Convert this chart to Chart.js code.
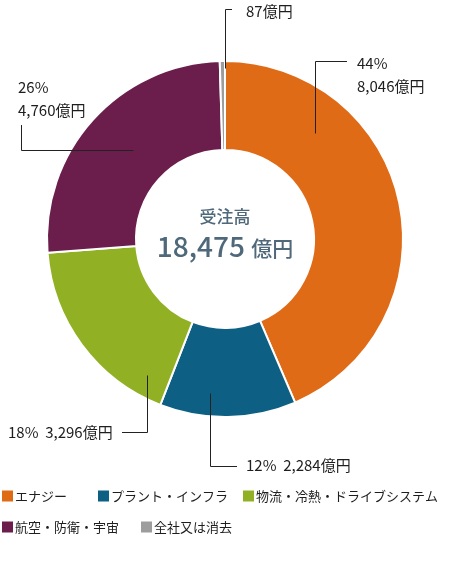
<!DOCTYPE html>
<html>
<head>
<meta charset="utf-8">
<script src="https://cdn.jsdelivr.net/npm/chart.js@4"></script>
<style>
  body { margin: 0; background: #fff; }
  canvas { display: block; }
</style>
</head>
<body>
<canvas id="order" width="450" height="566"></canvas>
<script>
// Segments, clockwise from 12 o'clock
var segments = ["エナジー", "プラント・インフラ", "物流・冷熱・ドライブシステム", "航空・防衛・宇宙", "全社又は消去"];
var amounts = [8046, 2284, 3296, 4760, 87];
var totalAmount = 18475;
var colors = ["#df6b17", "#0d5f84", "#92b024", "#6b1e4c", "#9d9d9d"];

// label placement: anchor in polar form (deg from top, fraction of outer radius),
// then the leader line route and where the text sits
var callouts = [
  { anchor: [40.3, 0.78], route: "v", turn: 61, end: 347, text: [357, 63], lines: 2 },
  { anchor: [185.5, 0.87], route: "v", turn: 466, end: 237, text: [246, 465], lines: 1 },
  { anchor: [209.8, 0.88], route: "v", turn: 432, end: 122, text: [8, 432], lines: 1 },
  { anchor: [314.1, 0.72], route: "h", turn: 21, end: 125, text: [18, 87], lines: 2 },
  { anchor: [0, 0.96], route: "v", turn: 9, end: 232, text: [246, 11], lines: 0 }
];

// legend placement: square x and row y
var legendSpots = [[2, 496], [98, 496], [243, 496], [2, 527], [141, 527]];

function fmt(n) {
  return n.toLocaleString("en-US");
}

var FONT = '"Noto Sans CJK JP", "Noto Sans", sans-serif';

var overlay = {
  id: "overlay",
  afterDraw: function(chart) {
    var ctx = chart.ctx;
    var arc = chart.getDatasetMeta(0).data[0];
    var cx = arc.x, cy = arc.y, R = arc.outerRadius;

    ctx.save();
    // center text
    ctx.fillStyle = "#4f687a";
    ctx.textAlign = "center";
    ctx.textBaseline = "middle";
    ctx.font = "500 17px " + FONT;
    ctx.fillText("受注高", cx, 217);
    ctx.textBaseline = "alphabetic";
    ctx.font = "500 28px " + FONT;
    var num = fmt(totalAmount) + " ";
    var unit = "億円";
    var w1 = ctx.measureText(num).width;
    ctx.font = "500 21px " + FONT;
    var w2 = ctx.measureText(unit).width;
    var sx = cx - (w1 + w2) / 2;
    ctx.textAlign = "left";
    ctx.font = "500 28px " + FONT;
    ctx.fillText(num, sx, 257);
    ctx.font = "500 21px " + FONT;
    ctx.fillText(unit, sx + w1, 256);

    // callouts
    ctx.strokeStyle = "#222";
    ctx.lineWidth = 1;
    ctx.fillStyle = "#1e1e1e";
    ctx.font = "15px " + FONT;
    ctx.textBaseline = "middle";
    for (var i = 0; i < callouts.length; i++) {
      var c = callouts[i];
      var a = c.anchor[0] * Math.PI / 180;
      var ax = Math.round(cx + Math.sin(a) * R * c.anchor[1]) + 0.5;
      var ay = Math.round(cy - Math.cos(a) * R * c.anchor[1]) + 0.5;
      ctx.beginPath();
      ctx.moveTo(ax, ay);
      if (c.route === "v") {
        ctx.lineTo(ax, c.turn + 0.5);
        ctx.lineTo(c.end, c.turn + 0.5);
      } else {
        ctx.lineTo(c.turn + 0.5, ay);
        ctx.lineTo(c.turn + 0.5, c.end);
      }
      ctx.stroke();

      var pct = Math.round(amounts[i] / totalAmount * 100) + "%";
      var val = fmt(amounts[i]) + "億円";
      if (c.lines === 2) {
        ctx.fillText(pct, c.text[0], c.text[1]);
        ctx.fillText(val, c.text[0], c.text[1] + 23);
      } else if (c.lines === 1) {
        ctx.fillText(pct + "  " + val, c.text[0], c.text[1]);
      } else {
        ctx.fillText(val, c.text[0], c.text[1]);
      }
    }

    // legend
    ctx.font = "13px " + FONT;
    for (var j = 0; j < segments.length; j++) {
      var p = legendSpots[j];
      ctx.fillStyle = colors[j];
      ctx.fillRect(p[0], p[1] - 5.5, 11, 11);
      ctx.fillStyle = "#1e1e1e";
      ctx.fillText(segments[j], p[0] + 13, p[1]);
    }
    ctx.restore();
  }
};

var ctx = document.getElementById("order");
var myChart = new Chart(ctx, {
  type: "doughnut",
  data: {
    labels: segments,
    datasets: [
      {
        data: amounts,
        backgroundColor: colors,
        borderColor: "#fff",
        borderWidth: 2
      }
    ]
  },
  options: {
    responsive: false,
    animation: false,
    cutout: "50%",
    layout: { padding: { left: 46, right: 46, top: 60, bottom: 148 } },
    plugins: {
      legend: { display: false },
      tooltip: { enabled: false }
    }
  },
  plugins: [overlay]
});
</script>
</body>
</html>
